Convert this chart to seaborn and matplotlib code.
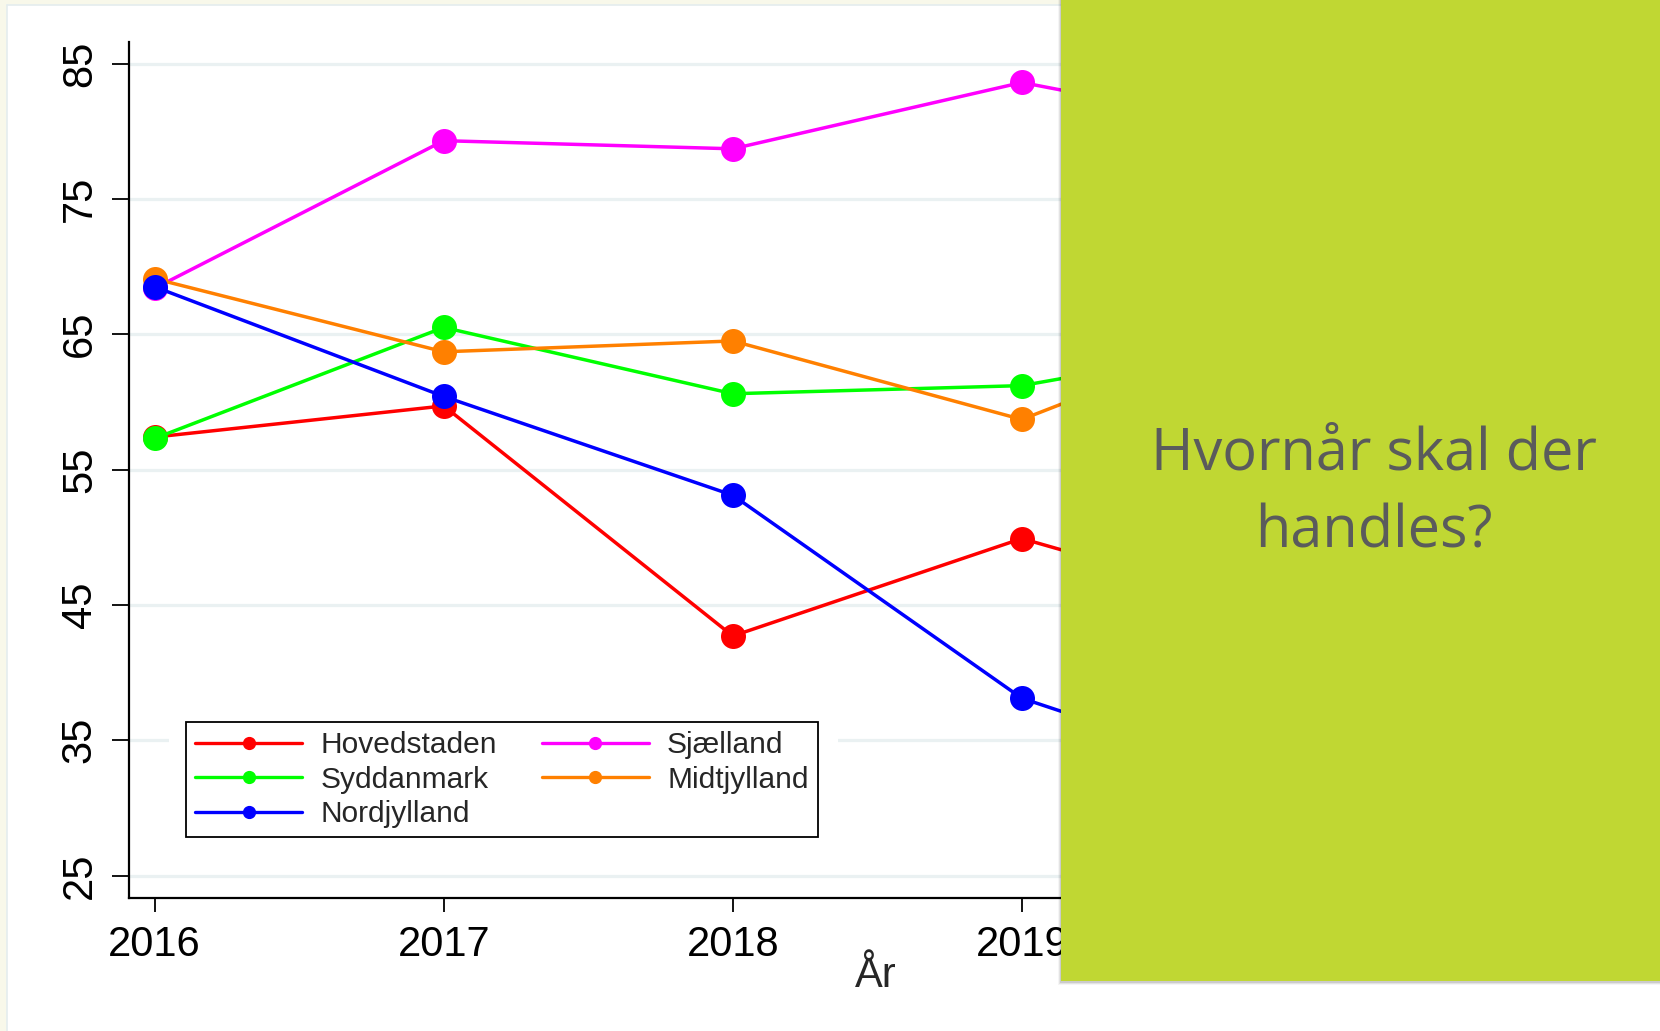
import pandas as pd
import numpy as np
import seaborn as sns
import matplotlib.pyplot as plt
from matplotlib.lines import Line2D
from matplotlib.patches import Rectangle


# values (2020 only shows as a stub before the green panel)
years = [2016, 2017, 2018, 2019, 2020]
hovedstaden = [57.4, 59.7, 42.7, 49.9, 43.8]
sjaelland = [68.4, 79.3, 78.7, 83.6, 79.5]
syddanmark = [57.3, 65.5, 60.6, 61.2, 65.0]
midtjylland = [69.1, 63.7, 64.5, 58.7, 67.0]
nordjylland = [68.5, 60.4, 53.1, 38.1, 31.0]

regions = ["Hovedstaden", "Sjælland", "Syddanmark", "Midtjylland", "Nordjylland"]
colors = ["#ff0000", "#ff00ff", "#00ff00", "#ff8000", "#0000ff"]
yticks = [25, 35, 45, 55, 65, 75, 85]
xticks = [2016, 2017, 2018, 2019]

df = pd.DataFrame(
    {
        "year": years * 5,
        "value": hovedstaden + sjaelland + syddanmark + midtjylland + nordjylland,
        "region": np.repeat(regions, len(years)),
    }
)

sns.set_style("white")
plt.rcParams["font.family"] = ["Liberation Sans", "DejaVu Sans"]

fig = plt.figure(figsize=(16.6, 10.31), dpi=100)
fig.patch.set_facecolor("white")

# slide border
fig.patches.append(Rectangle((0, 0), 7 / 1660, 1, transform=fig.transFigure,
                             facecolor="#f8f8ea", edgecolor="none", zorder=0))
fig.patches.append(Rectangle((0, 1 - 5 / 1031), 1, 5 / 1031, transform=fig.transFigure,
                             facecolor="#f8f8ea", edgecolor="none", zorder=0))
fig.add_artist(Line2D([7 / 1660, 7 / 1660], [0, 1 - 5 / 1031], transform=fig.transFigure,
                      color="#e4ecee", lw=1.2))
fig.add_artist(Line2D([7 / 1660, 1], [1 - 5 / 1031, 1 - 5 / 1031], transform=fig.transFigure,
                      color="#e4ecee", lw=1.2))

ax = fig.add_axes([129 / 1660, 1 - 897.7 / 1031, (1623 - 129) / 1660, (897.7 - 42.3) / 1031])
ax.set_facecolor("white")

sns.lineplot(
    data=df, x="year", y="value", hue="region", hue_order=regions,
    palette=colors, marker="o", markersize=18, markeredgewidth=0,
    linewidth=2.5, ax=ax, legend=False, zorder=3,
)

ax.set_xlim(2015.911, 2021.08)
ax.set_ylim(23.36, 86.57)
ax.set_yticks(yticks)
ax.set_xticks(xticks)
ax.yaxis.grid(True, color="#eaf1f2", lw=2.3)
ax.xaxis.grid(False)
ax.set_axisbelow(True)
for s in ["top", "right"]:
    ax.spines[s].set_visible(False)
for s in ["left", "bottom"]:
    ax.spines[s].set_color("black")
    ax.spines[s].set_linewidth(1.6)

ax.tick_params(axis="y", left=True, length=12, width=1.3, pad=9, labelsize=30,
               colors="black")
ax.tick_params(axis="x", bottom=True, length=10, width=1.3, pad=10, labelsize=30,
               colors="black")
for lab in ax.get_yticklabels():
    lab.set_rotation(90)
    lab.set_va("center")

ax.set_ylabel("")
ax.set_xlabel("År", fontsize=30)
ax.xaxis.set_label_coords(0.5, -0.068)

# legend, Stata style, rows: Hovedstaden/Sjælland, Syddanmark/Midtjylland, Nordjylland
order = ["Hovedstaden", "Syddanmark", "Nordjylland", "Sjælland", "Midtjylland"]
cmap = dict(zip(regions, colors))
handles = [Line2D([], [], color=cmap[r], lw=2.4, marker="o", markersize=8.5) for r in order]
fig.patches.append(Rectangle((169 / 1660, 1 - 850 / 1031), (838 - 169) / 1660, (850 - 712) / 1031,
                             transform=fig.transFigure, facecolor="white",
                             edgecolor="none", zorder=1))
leg = fig.legend(
    handles, order, ncol=2, loc="upper left",
    bbox_to_anchor=(186 / 1660, 1 - 722 / 1031), fontsize=21.5,
    frameon=True, fancybox=False, edgecolor="black", framealpha=1,
    handlelength=3.6, handletextpad=0.6, columnspacing=1.5,
    labelspacing=0.22, borderpad=0.3, borderaxespad=0,
)
leg.get_frame().set_linewidth(1.3)

# green slide panel with a soft shadow
px0, py0 = 1061 / 1660, 1 - 981 / 1031
for i, a in enumerate([0.10, 0.07, 0.04]):
    fig.patches.append(Rectangle((px0 - (i + 1) / 1660, py0 - (i + 2) / 1031), 1, 1,
                                 transform=fig.transFigure, facecolor="#000000",
                                 alpha=a, edgecolor="none", zorder=8))
fig.patches.append(Rectangle((px0, py0), 1 - px0, 1 - py0, transform=fig.transFigure,
                             facecolor="#c0d733", edgecolor="none", zorder=9))
fig.text(1374 / 1660, 1 - 470 / 1031, "Hvornår skal der", ha="center", va="baseline",
         fontsize=41.5, color="#5a5b5c", family=["Open Sans", "DejaVu Sans"], zorder=10)
fig.text(1374 / 1660, 1 - 547 / 1031, "handles?", ha="center", va="baseline",
         fontsize=41.5, color="#5a5b5c", family=["Open Sans", "DejaVu Sans"], zorder=10)

fig.savefig("out.png", dpi=100)
